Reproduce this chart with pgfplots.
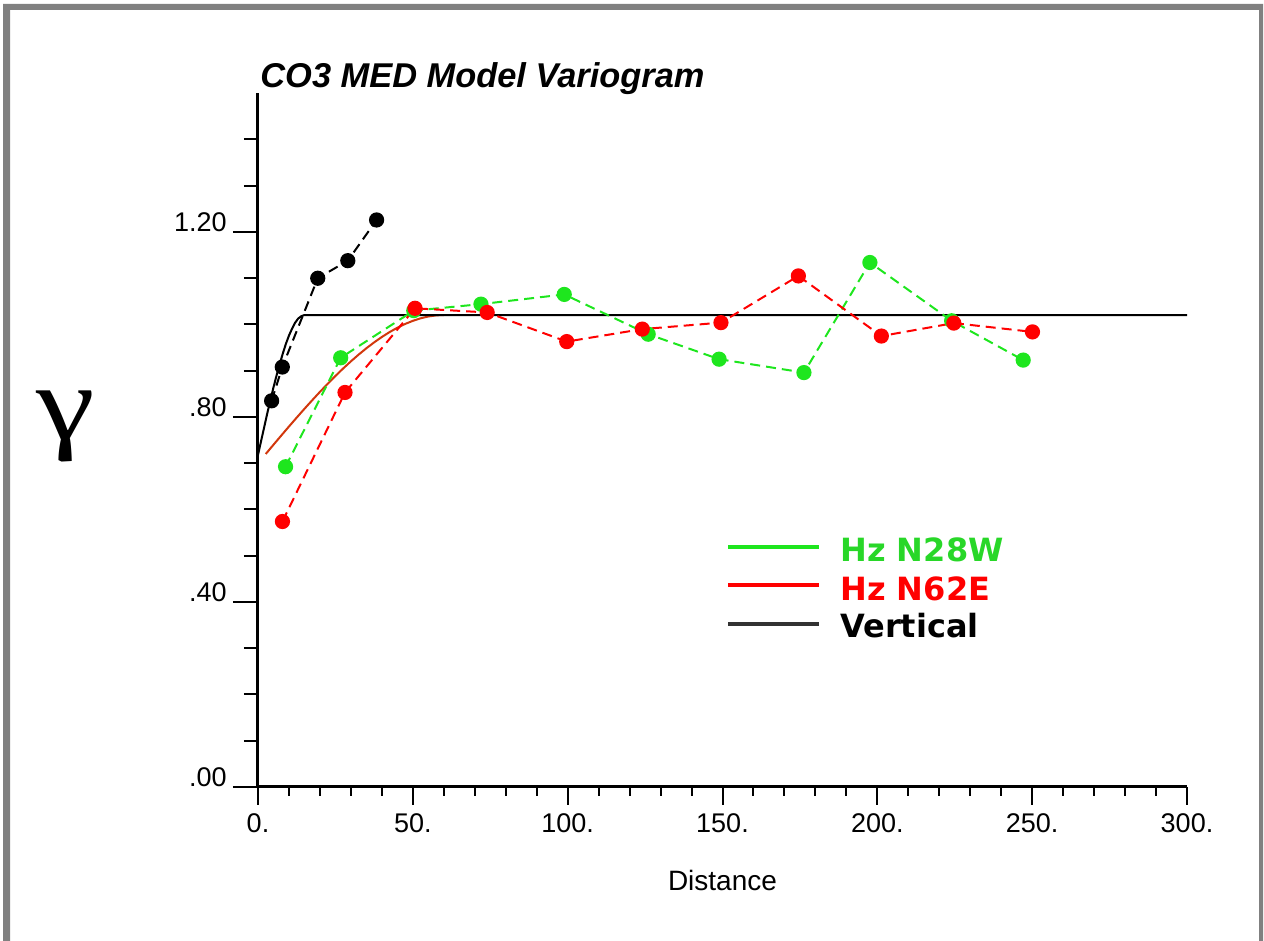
\documentclass[border=0pt]{standalone}
\usepackage{fontspec}
\setmainfont{Liberation Sans}
\newfontfamily\legfont{DejaVu Sans}
\newfontfamily\gamfont{Liberation Serif}[FakeStretch=1.25]
\usepackage{pgfplots}
\pgfplotsset{compat=1.18}
\definecolor{vgreen}{RGB}{30,230,30}
\definecolor{vgreentext}{RGB}{40,215,40}
\definecolor{vred}{RGB}{255,0,0}
\definecolor{vmodel}{RGB}{210,55,12}
\definecolor{vdark}{RGB}{50,50,50}
\definecolor{framegray}{RGB}{128,128,128}

\pgfplotstableread{
x y
8.9 0.6925
26.7 0.928
50.3 1.030
72.0 1.044
98.9 1.065
126.0 0.979
148.9 0.925
176.3 0.896
197.6 1.134
224.0 1.008
247.1 0.923
}\greendata

\pgfplotstableread{
x y
7.9 0.574
28.1 0.853
50.7 1.035
74.0 1.026
99.7 0.963
124.1 0.990
149.5 1.004
174.5 1.105
201.3 0.975
224.7 1.003
250.1 0.984
}\reddata

\pgfplotstableread{
x y
4.4 0.835
7.85 0.908
19.3 1.100
29.0 1.138
38.3 1.226
}\vertdata

\begin{document}
\begin{tikzpicture}
\useasboundingbox (0,0) rectangle (632pt,470.5pt);
\begin{scope}[x=0.5pt,y=-0.5pt,yshift=470.5pt]
  \fill[framegray] (3,941) -- (3,4) -- (1263,4) -- (1263,941) -- (1259,941) -- (1259,10) -- (10,10) -- (10,941) -- cycle;
  % legend
  \draw[vgreen, line width=2pt] (728,547) -- (819,547);
  \draw[vred, line width=2pt] (728,585) -- (819,585);
  \draw[vdark, line width=2pt] (728,624) -- (819,624);
  \node[anchor=base west, inner sep=0pt, font=\legfont\bfseries\fontsize{16}{18}\selectfont, text=vgreentext] at (840,562) {Hz N28W};
  \node[anchor=base west, inner sep=0pt, font=\legfont\bfseries\fontsize{16}{18}\selectfont, text=vred] at (840,601) {Hz N62E};
  \node[anchor=base west, inner sep=0pt, font=\legfont\bfseries\fontsize{16}{18}\selectfont, text=black] at (840,638) {Vertical};
\end{scope}
\begin{axis}[
  at={(129pt,77pt)}, anchor=south west,
  scale only axis, width=464.5pt, height=346.875pt,
  xmin=0, xmax=300, ymin=0, ymax=1.5,
  axis lines=left, axis line style={-, line width=1.5pt, black},
  tick align=outside,
  xtick={0,50,...,300}, xticklabels={0.,50.,100.,150.,200.,250.,300.},
  minor xtick={10,20,30,40,60,70,80,90,110,120,130,140,160,170,180,190,210,220,230,240,260,270,280,290},
  ytick={0,0.4,0.8,1.2}, yticklabels={.00,.40,.80,1.20},
  minor ytick={0.1,0.2,0.3,0.5,0.6,0.7,0.9,1.0,1.1,1.3,1.4},
  major tick length=12.5pt, minor tick length=7pt,
  every x tick/.append style={/pgfplots/major tick length=9pt,/pgfplots/minor tick length=4.5pt},
  tick style={black, line width=1pt},
  ticklabel style={font=\fontsize{13.5}{15}\selectfont},
  xticklabel style={anchor=north, inner sep=0pt, yshift=-0.5pt},
  yticklabel style={anchor=base east, inner sep=0pt, xshift=-3pt},
  xlabel={Distance},
  every axis x label/.style={at={(axis description cs:0.5,0)}, anchor=base, inner sep=0pt, yshift=-52pt, font=\fontsize{14}{16}\selectfont},
  ylabel={γ},
  every axis y label/.style={at={(axis description cs:0,0.52)}, anchor=center, inner sep=0pt, xshift=-96pt, font=\gamfont\fontsize{53}{53}\selectfont},
  title={CO3 MED Model Variogram},
  every axis title/.style={at={(axis description cs:0,1)}, anchor=base west, inner sep=0pt, xshift=1pt, yshift=3pt, font=\bfseries\itshape\fontsize{17.2}{19}\selectfont},
  clip=false,
]
% horizontal model (spherical)
\addplot[vmodel, line width=1pt, no marks] coordinates {
(2.5,0.7200)(5,0.7400)(7.5,0.7598)(10,0.7794)(12.5,0.7987)(15,0.8177)(17.5,0.8362)(20,0.8543)(22.5,0.8718)(25,0.8887)(27.5,0.9049)(30,0.9203)(32.5,0.9349)(35,0.9486)(37.5,0.9613)(40,0.9730)(42.5,0.9836)(45,0.9930)(47.5,1.0011)(50,1.0079)(52.5,1.0133)(55,1.0173)(57.5,1.0197)(60,1.0205)
};
% vertical model + sill
\addplot[black, line width=1pt, no marks] coordinates {
(0,0.718)(1,0.748)(2,0.778)(3,0.808)(4,0.836)(5,0.864)(6,0.890)(7,0.914)(8,0.937)(9,0.958)(10,0.976)(11,0.991)(12,1.004)(13,1.013)(14,1.018)(15,1.0205)(300,1.0205)
};
% experimental
\addplot[vgreen, line width=1pt, dash pattern=on 5pt off 3pt, mark=*, mark size=3.3pt, mark options={solid, fill=vgreen, draw=vgreen}] table[x=x,y=y] {\greendata};
\addplot[vred, line width=1pt, dash pattern=on 5pt off 3pt, mark=*, mark size=3.3pt, mark options={solid, fill=vred, draw=vred}] table[x=x,y=y] {\reddata};
\addplot[black, line width=1pt, dash pattern=on 5pt off 3pt, mark=*, mark size=3.3pt, mark options={solid, fill=black, draw=black}] table[x=x,y=y] {\vertdata};
\end{axis}
\end{tikzpicture}
\end{document}
